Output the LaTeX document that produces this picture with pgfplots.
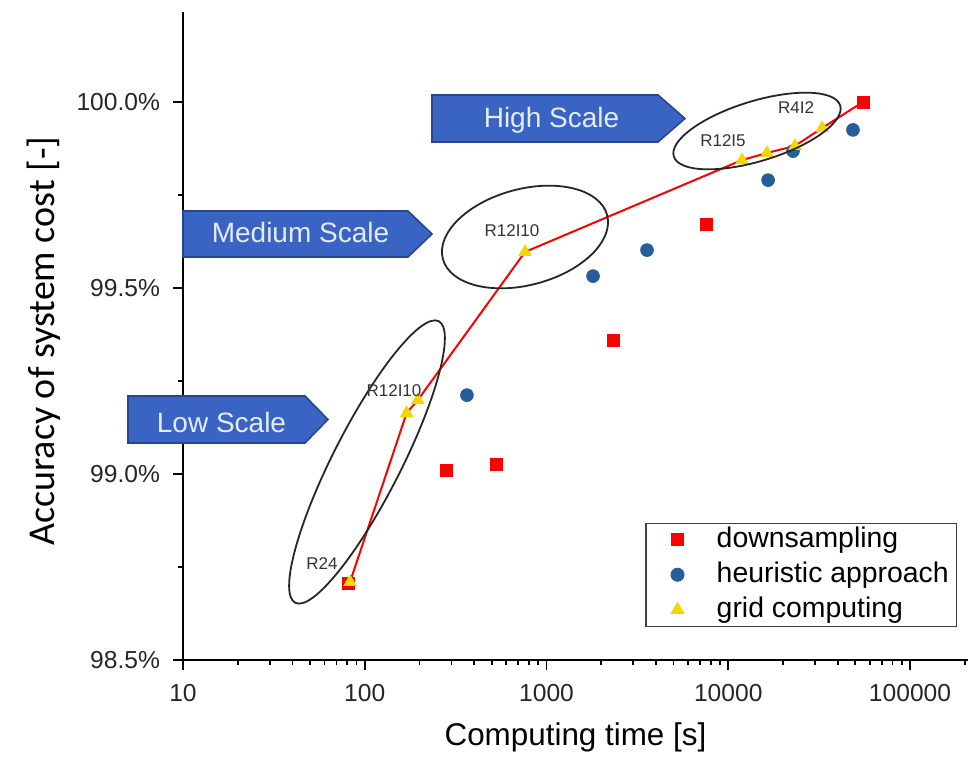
\documentclass[border=0pt]{standalone}
\usepackage{pgfplots}
\pgfplotsset{compat=1.18}
\usepackage{fontspec}
\setmainfont{Liberation Sans}
\newfontfamily\calibri{Carlito}
\definecolor{dsred}{RGB}{255,0,0}
\definecolor{heublue}{RGB}{38,94,156}
\definecolor{gridyel}{RGB}{245,215,0}
\definecolor{boxblue}{RGB}{58,100,196}
\definecolor{boxedge}{RGB}{40,70,140}
\definecolor{boxtext}{RGB}{228,236,250}
\begin{document}
\begin{tikzpicture}
\begin{axis}[
  scale only axis, width=392.5pt, height=324pt,
  xmode=log, xmin=10, xmax=208400, ymin=98.5, ymax=100.242,
  axis x line*=bottom, axis y line*=left,
  axis line style={line width=1.1pt},
  tick align=outside,
  major tick length=5pt, minor tick length=2.5pt,
  every tick/.style={line width=0.9pt, black},
  xtick={10,100,1000,10000,100000},
  xticklabels={10,100,1000,10000,100000},
  minor xtick={20,30,40,50,60,70,80,90,200,300,400,500,600,700,800,900,2000,3000,4000,5000,6000,7000,8000,9000,20000,30000,40000,50000,60000,70000,80000,90000,200000},
  ytick={98.5,99,99.5,100},
  yticklabels={98.5\%,99.0\%,99.5\%,100.0\%},
  minor ytick={98.75,99.25,99.75},
  ticklabel style={font=\fontsize{12.3}{14}\selectfont, text=black!85},
  xticklabel style={yshift=-3.5pt},
  yticklabel style={xshift=-3pt},
  xlabel={Computing time [s]},
  ylabel={Accuracy of system cost [-]},
  xlabel style={font=\fontsize{15.7}{18}\selectfont, at={(axis description cs:0.5,-0.119)}, anchor=center},
  ylabel style={font=\calibri\fontsize{19}{22}\selectfont, at={(axis description cs:-0.177,0.492)}, anchor=center},
  legend style={at={(rel axis cs:0.986,0.051)}, anchor=south east, draw=black!75, line width=0.6pt,
    font=\fontsize{14.2}{17}\selectfont, row sep=4.9pt,
    nodes={inner sep=0.8pt, text height=9.5pt, text depth=1.5pt}},
  legend image code/.code={\path (0pt,0pt) (31pt,0pt); \draw[#1] plot coordinates {(12.5pt,0pt)};},
  legend cell align=left,
  clip=false,
]
\addplot[only marks, mark=square*, mark size=3pt, color=dsred] coordinates {
  (80.9,98.707) (280,99.010) (527,99.027) (2323,99.358) (7550,99.672) (55080,100.0)
};
\addlegendentry{downsampling}
\addplot[only marks, mark=*, mark size=3.2pt, color=heublue] coordinates {
  (365,99.212) (1803,99.532) (3573,99.602) (16560,99.790) (22700,99.868) (48540,99.925)
};
\addlegendentry{heuristic approach}
\addplot[only marks, mark=triangle*, mark size=3.5pt, color=gridyel] coordinates {
  (83,98.71) (170,99.164) (196,99.199) (762,99.597) (11904,99.844) (16330,99.863) (23280,99.882) (32810,99.930)
};
\addlegendentry{grid computing}
\addplot[forget plot, color=dsred, line width=1pt] coordinates {
  (83,98.71) (170,99.164) (196,99.199) (762,99.597) (11904,99.844) (16330,99.863) (23280,99.882) (32810,99.930) (55080,100.0)
};
\end{axis}
\begin{scope}[x=0.5pt,y=-0.5pt,shift={(-91.5pt,330pt)}]
  % scale boxes
  \draw[boxedge, fill=boxblue, line width=0.8pt] (128,396) -- (305,396) -- (328,419.5) -- (305,443) -- (128,443) -- cycle;
  \node[anchor=base, text=boxtext, font=\fontsize{14}{16}\selectfont, inner sep=0pt] at (221.5,433) {Low Scale};
  \draw[boxedge, fill=boxblue, line width=0.8pt] (183,211) -- (408,211) -- (432,234) -- (408,257) -- (183,257) -- cycle;
  \node[anchor=base, text=boxtext, font=\fontsize{14}{16}\selectfont, inner sep=0pt] at (300.5,243) {Medium Scale};
  \draw[boxedge, fill=boxblue, line width=0.8pt] (432,95) -- (658,95) -- (685,118.5) -- (658,142) -- (432,142) -- cycle;
  \node[anchor=base, text=boxtext, font=\fontsize{14}{16}\selectfont, inner sep=0pt] at (551.5,128) {High Scale};
  % ellipses
  \draw[line width=0.9pt, black!85, rotate around={63:(367,462)}] (367,462) ellipse [x radius=79pt, y radius=17pt];
  \draw[line width=0.9pt, black!85, rotate around={15:(525,237)}] (525,237) ellipse [x radius=42.5pt, y radius=24pt];
  \draw[line width=0.9pt, black!85, rotate around={17:(757,131)}] (757,131) ellipse [x radius=43.5pt, y radius=15pt];
  % labels
  \begin{scope}[every node/.style={font=\fontsize{8.5}{10}\selectfont, text=black!80, inner sep=0pt}]
    \node at (322,564) {R24};
    \node at (394,391) {R12I10};
    \node at (512,231) {R12I10};
    \node at (723,141) {R12I5};
    \node at (796,108) {R4I2};
  \end{scope}
  \pgfresetboundingbox
  \path (0,0) rectangle (970,756);
\end{scope}
\end{tikzpicture}
\end{document}
